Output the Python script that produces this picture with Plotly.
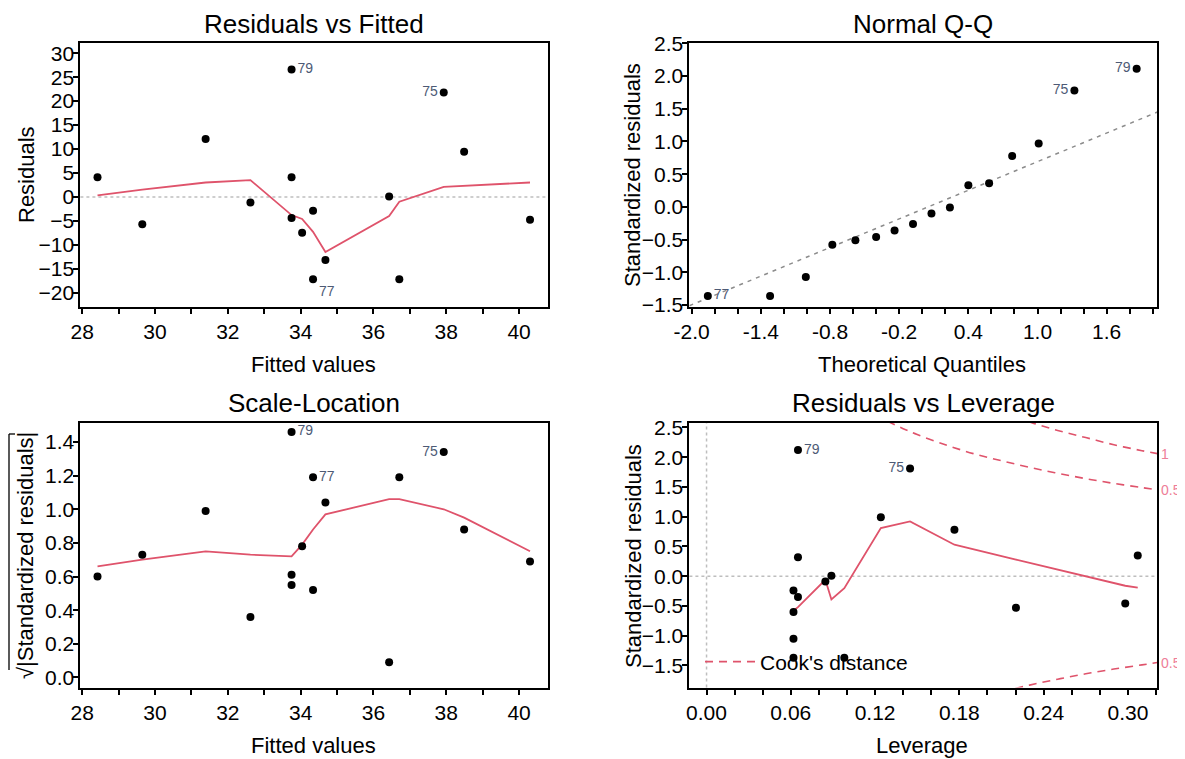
import plotly.graph_objects as go

FONT = "Liberation Sans, Arial, sans-serif"
RED = "#DF536B"
GREY = "#BEBEBE"
ID_COLOR = "#4d5a75"

# ---- Residuals vs Fitted ----
fitted = [28.42, 29.65, 31.39, 32.62, 33.75, 33.75, 33.75, 34.04,
          34.34, 34.34, 34.68, 36.43, 36.71, 37.93, 38.49, 40.30]
residuals = [4.1, -5.7, 12.1, -1.2, 26.6, 4.1, -4.4, -7.5,
             -2.9, -17.2, -13.2, 0.1, -17.2, 21.8, 9.4, -4.8]
fitted_ids = {4: ("79", "middle right"), 9: ("77", "bottom right"), 13: ("75", "middle left")}

smooth_fit_x = [28.42, 29.65, 31.39, 32.62, 33.75, 34.04, 34.34, 34.68,
                36.43, 36.71, 37.93, 38.49, 40.30]
smooth_resid = [0.3, 1.5, 3.0, 3.5, -3.8, -4.6, -7.3, -11.5, -4.0, -1.0, 2.1, 2.3, 3.0]

# ---- Normal Q-Q ----
theoretical_q = [-1.86, -1.32, -1.01, -0.78, -0.58, -0.40, -0.24, -0.08,
                 0.08, 0.24, 0.40, 0.58, 0.78, 1.01, 1.32, 1.86]
std_resid_sorted = [-1.36, -1.36, -1.07, -0.58, -0.51, -0.46, -0.36, -0.26,
                    -0.10, -0.01, 0.33, 0.36, 0.78, 0.97, 1.78, 2.11]
qq_ids = {0: ("77", "middle right"), 14: ("75", "middle left"), 15: ("79", "middle left")}
qq_line_x = [-2.02, 2.04]
qq_line_y = [-1.51, 1.45]

# ---- Scale-Location ----
sqrt_std_resid = [0.60, 0.73, 0.99, 0.36, 1.46, 0.61, 0.55, 0.78,
                  0.52, 1.19, 1.04, 0.09, 1.19, 1.34, 0.88, 0.69]
sl_ids = {4: ("79", "middle right"), 9: ("77", "middle right"), 13: ("75", "middle left")}
smooth_sl = [0.66, 0.70, 0.75, 0.73, 0.72, 0.79, 0.88, 0.97, 1.06, 1.06, 1.00, 0.95, 0.75]

# ---- Residuals vs Leverage ----
leverage = [0.0651, 0.1449, 0.1241, 0.1765, 0.0651, 0.3070, 0.0889, 0.0846,
            0.0619, 0.0651, 0.0619, 0.2203, 0.2981, 0.0619, 0.0619, 0.0981]
std_resid = [2.12, 1.81, 0.99, 0.78, 0.32, 0.35, 0.01, -0.09,
             -0.24, -0.35, -0.60, -0.53, -0.46, -1.05, -1.37, -1.37]
lev_ids = {0: ("79", "middle right"), 1: ("75", "middle left")}
smooth_lev_x = [0.0619, 0.0651, 0.0846, 0.0889, 0.0981, 0.1241, 0.1449,
                0.1765, 0.2203, 0.2981, 0.3070]
smooth_lev_y = [-0.58, -0.52, -0.06, -0.39, -0.20, 0.81, 0.92, 0.53, 0.28, -0.16, -0.19]

# Cook's distance contours (0.5 and 1)
cook_h = [0.12, 0.13, 0.14, 0.15, 0.17, 0.19, 0.21, 0.23, 0.25, 0.27, 0.29, 0.31, 0.321]
cook_half = [2.71, 2.59, 2.48, 2.38, 2.21, 2.06, 1.94, 1.83, 1.73, 1.64, 1.56, 1.49, 1.45]
cook_h_one = [0.21, 0.23, 0.25, 0.27, 0.29, 0.31, 0.321]
cook_one = [2.74, 2.59, 2.45, 2.33, 2.21, 2.11, 2.06]

# ticks
fit_ticks = list(range(28, 41))
fit_ticklabels = [str(t) if t % 2 == 0 else "" for t in fit_ticks]
resid_ticks = [-20, -15, -10, -5, 0, 5, 10, 15, 20, 25, 30]
qq_ticks = [-2.0, -1.8, -1.6, -1.4, -1.2, -1.0, -0.8, -0.6, -0.4, -0.2, 0.0,
            0.2, 0.4, 0.6, 0.8, 1.0, 1.2, 1.4, 1.6, 1.8, 2.0]
qq_ticklabels = ["-2.0", "", "", "-1.4", "", "", "-0.8", "", "", "-0.2", "",
                 "", "0.4", "", "", "1.0", "", "", "1.6", "", ""]
std_ticks = [-1.5, -1.0, -0.5, 0.0, 0.5, 1.0, 1.5, 2.0, 2.5]
sl_ticks = [0.0, 0.2, 0.4, 0.6, 0.8, 1.0, 1.2, 1.4]
lev_ticks = [0.00, 0.02, 0.04, 0.06, 0.08, 0.10, 0.12, 0.14, 0.16,
             0.18, 0.20, 0.22, 0.24, 0.26, 0.28, 0.30, 0.32]
lev_ticklabels = ["0.00", "", "", "0.06", "", "", "0.12", "", "",
                  "0.18", "", "", "0.24", "", "", "0.30", ""]

# the page body has an 8px margin, so the figure sits 8px in from the corner
OFF = 8
W, H = 1185 - OFF, 759 - OFF


def px_x(p):
    return (p - OFF) / W


def px_y(p):
    return 1 - (p - OFF) / H


def id_text(n, ids):
    text = [""] * n
    pos = ["middle right"] * n
    for i, (lab, where) in ids.items():
        text[i] = lab
        pos[i] = where
    return text, pos


def points(x, y, ids, xa, ya):
    text, pos = id_text(len(x), ids)
    return go.Scatter(
        x=x, y=y, mode="markers+text", text=text, textposition=pos,
        textfont=dict(size=14, color=ID_COLOR, family=FONT),
        marker=dict(color="black", size=8),
        xaxis=xa, yaxis=ya, showlegend=False, hoverinfo="skip",
    )


def smooth(x, y, xa, ya):
    return go.Scatter(x=x, y=y, mode="lines", line=dict(color=RED, width=1.8),
                      xaxis=xa, yaxis=ya, showlegend=False, hoverinfo="skip")


fig = go.Figure()

fig.add_trace(smooth(smooth_fit_x, smooth_resid, "x", "y"))
fig.add_trace(points(fitted, residuals, fitted_ids, "x", "y"))

fig.add_trace(go.Scatter(x=qq_line_x, y=qq_line_y, mode="lines",
                         line=dict(color="#8c8c8c", width=1.5, dash="4px,5px"),
                         xaxis="x2", yaxis="y2", showlegend=False, hoverinfo="skip"))
fig.add_trace(points(theoretical_q, std_resid_sorted, qq_ids, "x2", "y2"))

fig.add_trace(smooth(smooth_fit_x, smooth_sl, "x3", "y3"))
fig.add_trace(points(fitted, sqrt_std_resid, sl_ids, "x3", "y3"))

cook_line = dict(color=RED, width=1.6, dash="8px,6px")
fig.add_trace(go.Scatter(x=cook_h, y=cook_half, mode="lines", line=cook_line, line_shape="spline",
                         xaxis="x4", yaxis="y4", name="Cook's distance", showlegend=True,
                         hoverinfo="skip"))
fig.add_trace(go.Scatter(x=cook_h_one, y=cook_one, mode="lines", line=cook_line, line_shape="spline",
                         xaxis="x4", yaxis="y4", showlegend=False, hoverinfo="skip"))
fig.add_trace(go.Scatter(x=cook_h[6:], y=[-v for v in cook_half[6:]], mode="lines", line=cook_line,
                         line_shape="spline", xaxis="x4", yaxis="y4", showlegend=False,
                         hoverinfo="skip"))
fig.add_trace(smooth(smooth_lev_x, smooth_lev_y, "x4", "y4"))
fig.add_trace(points(leverage, std_resid, lev_ids, "x4", "y4"))

# panel boxes in pixels of the reference picture
left_dom = [px_x(80.4), px_x(547.5)]
right_dom = [px_x(689.4), px_x(1157.4)]
top_dom = [px_y(307), px_y(42.7)]
bot_dom = [px_y(687.5), px_y(422.7)]


def axis(domain, anchor, rng, tickvals, ticktext=None, fmt=None, ystand=False):
    a = dict(domain=domain, anchor=anchor, range=rng, tickvals=tickvals,
             showline=True, linecolor="black", linewidth=2, mirror=True,
             ticks="outside", ticklen=5, tickwidth=1.5, tickcolor="black",
             showgrid=False, zeroline=False, automargin=False,
             tickfont=dict(size=21, color="black", family=FONT))
    if ticktext is not None:
        a["ticktext"] = ticktext
    if fmt:
        a["tickformat"] = fmt
    if ystand:
        a["ticklabelstandoff"] = -5
    return a


fig.update_layout(
    width=W, height=H,
    margin=dict(l=0, r=0, t=0, b=0, autoexpand=False),
    paper_bgcolor="white", plot_bgcolor="white",
    font=dict(family=FONT, color="black"),
    xaxis=axis(left_dom, "y", [27.95, 40.78], fit_ticks, fit_ticklabels),
    yaxis=axis(top_dom, "x", [-23.0, 32.2], resid_ticks, ystand=True),
    xaxis2=axis(right_dom, "y2", [-2.02, 2.04], qq_ticks, qq_ticklabels),
    yaxis2=axis(top_dom, "x2", [-1.53, 2.51], std_ticks, fmt=".1f", ystand=True),
    xaxis3=axis(left_dom, "y3", [27.95, 40.78], fit_ticks, fit_ticklabels),
    yaxis3=axis(bot_dom, "x3", [-0.06, 1.515], sl_ticks, fmt=".1f", ystand=True),
    xaxis4=axis(right_dom, "y4", [-0.0122, 0.321], lev_ticks, lev_ticklabels),
    yaxis4=axis(bot_dom, "x4", [-1.87, 2.58], std_ticks, fmt=".1f", ystand=True),
    legend=dict(x=px_x(700), y=px_y(662), xanchor="left", yanchor="middle",
                bgcolor="rgba(0,0,0,0)", borderwidth=0, itemwidth=50,
                font=dict(size=21, color="black", family=FONT)),
)

# dotted reference lines
dot = dict(color=GREY, width=1.5, dash="3px,3px")
fig.add_shape(type="line", xref="x domain", yref="y", x0=0, x1=1, y0=0, y1=0, line=dot, layer="below")
fig.add_shape(type="line", xref="x4 domain", yref="y4", x0=0, x1=1, y0=0, y1=0, line=dot, layer="below")
fig.add_shape(type="line", xref="x4", yref="y4 domain", x0=0, x1=0, y0=0, y1=1, line=dot, layer="below")

# radical overline of the scale-location y title
fig.add_shape(type="line", xref="paper", yref="paper", x0=px_x(9), x1=px_x(9),
              y0=px_y(434), y1=px_y(670), line=dict(color="black", width=1.3))
fig.add_shape(type="line", xref="paper", yref="paper", x0=px_x(9), x1=px_x(15),
              y0=px_y(434), y1=px_y(434), line=dict(color="black", width=1.3))

titles = [
    ("Residuals vs Fitted", (80.4 + 547.5) / 2, 24),
    ("Normal Q-Q", (689.4 + 1157.4) / 2, 24),
    ("Scale-Location", (80.4 + 547.5) / 2, 403),
    ("Residuals vs Leverage", (689.4 + 1157.4) / 2, 403),
]
for txt, cx, cy in titles:
    fig.add_annotation(text=txt, x=px_x(cx), y=px_y(cy), xref="paper", yref="paper",
                       xanchor="center", yanchor="middle", showarrow=False,
                       font=dict(size=26, color="black", family=FONT))

axis_titles = [
    ("Fitted values", 313, 364, 0),
    ("Theoretical Quantiles", 922, 364, 0),
    ("Fitted values", 313, 745, 0),
    ("Leverage", 922, 745, 0),
    ("Residuals", 27, 175, -90),
    ("Standardized residuals", 633, 175, -90),
    ("√|Standardized residuals|", 25, 556, -90),
    ("Standardized residuals", 633, 556, -90),
]
for txt, cx, cy, ang in axis_titles:
    fig.add_annotation(text=txt, x=px_x(cx), y=px_y(cy), xref="paper", yref="paper",
                       xanchor="center", yanchor="middle", showarrow=False, textangle=ang,
                       font=dict(size=22, color="black", family=FONT))

# Cook's contour levels in the right margin
for lab, val in [("1", cook_one[-1]), ("0.5", cook_half[-1]), ("0.5", -cook_half[-1])]:
    fig.add_annotation(text=lab, x=1, y=val, xref="x4 domain", yref="y4", xanchor="left",
                       yanchor="middle", xshift=2, showarrow=False,
                       font=dict(size=14, color="#EE7E98", family=FONT))

fig.write_html("out.html")
